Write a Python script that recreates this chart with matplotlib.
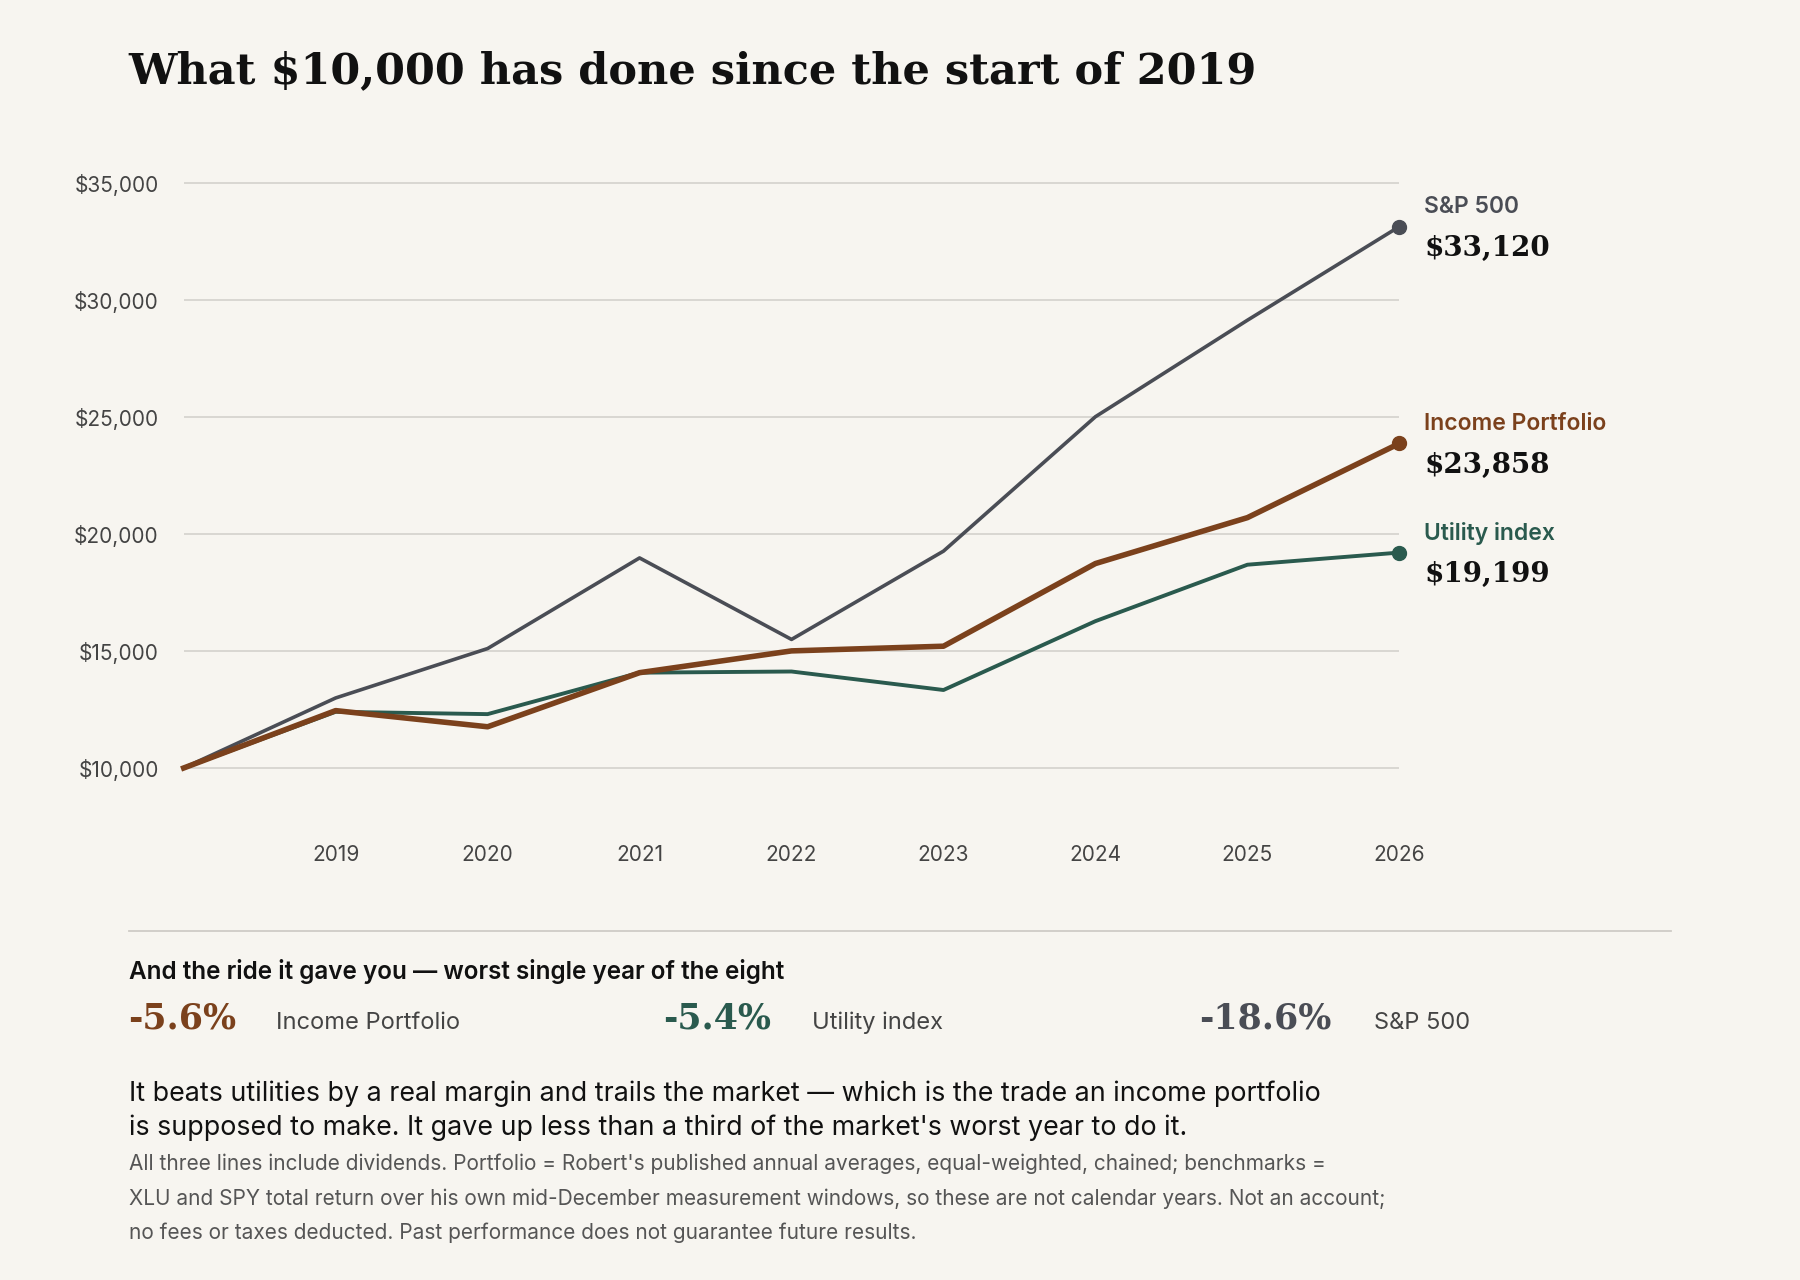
import matplotlib.pyplot as plt
from matplotlib.ticker import FuncFormatter

# chart data
years = [2018, 2019, 2020, 2021, 2022, 2023, 2024, 2025, 2026]
tick_years = [2019, 2020, 2021, 2022, 2023, 2024, 2025, 2026]
sp500 = [10000, 12990, 15100, 18970, 15490, 19260, 25000, 29120, 33120]
income = [10000, 12450, 11760, 14070, 15000, 15200, 18730, 20690, 23858]
utility = [10000, 12400, 12300, 14070, 14120, 13330, 16270, 18680, 19199]

worst_vals = ["-5.6%", "-5.4%", "-18.6%"]
worst_names = ["Income Portfolio", "Utility index", "S&P 500"]

BG = "#f7f5f0"
C_SP = "#4a4d55"
C_INC = "#7b411c"
C_UT = "#2a5a4e"
SANS = ["Inter", "DejaVu Sans"]
SERIF = ["DejaVu Serif"]
plt.rcParams['font.family'] = SANS

W, H = 1568, 1115
fig = plt.figure(figsize=(18, 12.8), dpi=100, facecolor=BG)

def fx(px):
    return px / W

def fy(py):
    return 1 - py / H

ax = fig.add_axes([fx(160), fy(700), fx(1219) - fx(160), fy(150) - fy(700)])
ax.set_facecolor(BG)
ax.set_xlim(2018, 2026)
ax.set_ylim(8480, 35441)
ax.set_yticks([10000, 15000, 20000, 25000, 30000, 35000])
ax.yaxis.set_major_formatter(FuncFormatter(lambda v, p: f"${v:,.0f}"))
ax.set_xticks(tick_years)
ax.grid(axis='y', color='#d3d1cc', lw=1.2)
ax.set_axisbelow(True)
for s in ax.spines.values():
    s.set_visible(False)
ax.tick_params(length=0, labelsize=15, colors='#444')
ax.tick_params(axis='x', pad=30)
ax.tick_params(axis='y', pad=18)

ax.plot(years, sp500, color=C_SP, lw=2.6, clip_on=False)
ax.plot(years, utility, color=C_UT, lw=2.8, clip_on=False)
ax.plot(years, income, color=C_INC, lw=4, clip_on=False)
for ser, c in [(sp500, C_SP), (income, C_INC), (utility, C_UT)]:
    ax.plot(years[-1], ser[-1], 'o', color=c, ms=10, clip_on=False)

labels = [("S&P 500", sp500, C_SP), ("Income Portfolio", income, C_INC),
          ("Utility index", utility, C_UT)]
for name, ser, c in labels:
    ax.annotate(name, (years[-1], ser[-1]), xytext=(18, 14), textcoords='offset points',
                color=c, fontsize=16.5, fontweight='semibold', va='center', annotation_clip=False)
    ax.annotate(f"${ser[-1]:,.0f}", (years[-1], ser[-1]), xytext=(18, -16), textcoords='offset points',
                color='#111', fontsize=20, fontweight='bold', family=SERIF, va='center',
                annotation_clip=False)

fig.text(fx(112), fy(62), "What $10,000 has done since the start of 2019", family=SERIF,
         fontweight='bold', fontsize=31, color='#111', va='center')

fig.add_artist(plt.Line2D([fx(112), fx(1456)], [fy(811), fy(811)], color='#cfccc6', lw=1.3))
fig.text(fx(112), fy(846), "And the ride it gave you \u2014 worst single year of the eight",
         fontsize=17.5, fontweight='semibold', color='#111', va='center')

cols = [(112, 240, C_INC), (578, 707, C_UT), (1045, 1197, C_SP)]
for (x0, x1, c), v, n in zip(cols, worst_vals, worst_names):
    fig.text(fx(x0), fy(887), v, family=SERIF, fontweight='bold', fontsize=25, color=c, va='center')
    fig.text(fx(x1), fy(891), n, fontsize=17, color='#444', va='center')

fig.text(fx(112), fy(953), "It beats utilities by a real margin and trails the market \u2014 which is the trade an income portfolio",
         fontsize=19.3, color='#111', va='center')
fig.text(fx(112), fy(982), "is supposed to make. It gave up less than a third of the market's worst year to do it.",
         fontsize=19.3, color='#111', va='center')
foot = ["All three lines include dividends. Portfolio = Robert's published annual averages, equal-weighted, chained; benchmarks =",
        "XLU and SPY total return over his own mid-December measurement windows, so these are not calendar years. Not an account;",
        "no fees or taxes deducted. Past performance does not guarantee future results."]
for i, t in enumerate(foot):
    fig.text(fx(112), fy(1014 + 30 * i), t, fontsize=15, color='#555', va='center')

fig.savefig("out.png", facecolor=BG)
